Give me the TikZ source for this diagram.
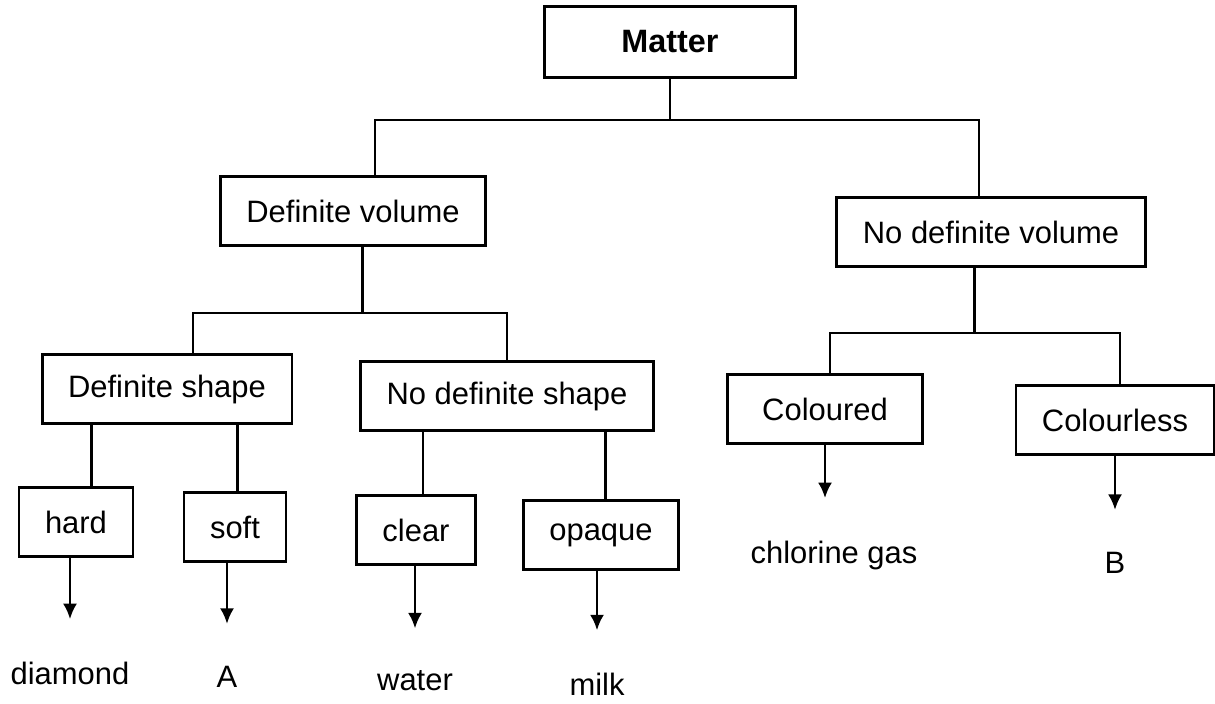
\documentclass[tikz,border=0pt]{standalone}
\usepackage{fontspec}
\setmainfont{Liberation Sans}
\usetikzlibrary{arrows.meta}

\tikzset{
  box/.style={draw, line width=2pt, inner xsep=18.5pt, minimum height=49pt,
    font=\fontsize{22}{26}\selectfont},
  leaf/.style={inner sep=0pt, font=\fontsize{22}{26}\selectfont},
  link/.style={line width=2pt},
  arr/.style={line width=2pt, -{Latex[length=11pt,width=10pt]}, shorten >=30pt},
}

\begin{document}
\begin{tikzpicture}[x=0.025cm, y=-0.025cm]
  \useasboundingbox (0,0) rectangle (1215,703);
  % boxes
  \node[box, minimum width=178pt, minimum height=50pt,
    font=\fontsize{23}{27}\selectfont\bfseries] (matter) at (670,42) {Matter};
  \node[box] (dvol) at (353,211) {Definite volume};
  \node[box] (ndvol) at (991,232) {No definite volume};
  \node[box] (dshape) at (167,389) {Definite shape};
  \node[box] (ndshape) at (507,396) {No definite shape};
  \node[box, minimum width=139pt] (col) at (825,409) {Coloured};
  \node[box] (cless) at (1115,420) {Colourless};
  \node[box] (hard) at (76,522) {hard};
  \node[box] (soft) at (235,527) {soft};
  \node[box] (clear) at (416,530) {clear};
  \node[box] (opaque) at (601,535) {opaque};
  % examples
  \node[leaf] (diamond) at (70,673) {diamond};
  \node[leaf] (a) at (227,677) {A};
  \node[leaf] (water) at (415,681) {water};
  \node[leaf] (milk) at (597,684) {milk};
  \node[leaf] (chlorine) at (834,555) {chlorine gas};
  \node[leaf] (b) at (1115,563) {B};
  % bars
  \coordinate (t1) at (375,120);
  \coordinate (t2) at (979,120);
  \coordinate (d1) at (193,313);
  \coordinate (d2) at (507,313);
  \coordinate (n1) at (830,333);
  \coordinate (n2) at (1120,333);
  \draw[link] (matter.south) -- (matter.south |- t1);
  \draw[link] (dvol.north -| t1) -- (t1) -- (t2) -- (t2 |- ndvol.north);
  \draw[link] ([xshift=7pt]dvol.south) -- ([xshift=7pt]dvol.south |- d1);
  \draw[link] (dshape.north -| d1) -- (d1) -- (d2) -- (d2 |- ndshape.north);
  \draw[link] ([xshift=-12pt]ndvol.south) -- ([xshift=-12pt]ndvol.south |- n1);
  \draw[link] (col.north -| n1) -- (n1) -- (n2) -- (n2 |- cless.north);
  % down to the leaves
  \draw[link] ([xshift=11pt]hard.north) -- ([xshift=11pt]hard.north |- dshape.south);
  \draw[link] ([xshift=2pt]soft.north) -- ([xshift=2pt]soft.north |- dshape.south);
  \draw[link] ([xshift=5pt]clear.north) -- ([xshift=5pt]clear.north |- ndshape.south);
  \draw[link] ([xshift=3pt]opaque.north) -- ([xshift=3pt]opaque.north |- ndshape.south);
  % arrows
  \draw[arr] (hard.south -| diamond.north) -- (diamond.north);
  \draw[arr] (soft.south -| a.north) -- (a.north);
  \draw[arr] (clear.south -| water.north) -- (water.north);
  \draw[arr] (opaque.south -| milk.north) -- (milk.north);
  \draw[arr] (col.south -| col.south) -- (col.south |- chlorine.north);
  \draw[arr] (cless.south -| b.north) -- (b.north);
\end{tikzpicture}
\end{document}
